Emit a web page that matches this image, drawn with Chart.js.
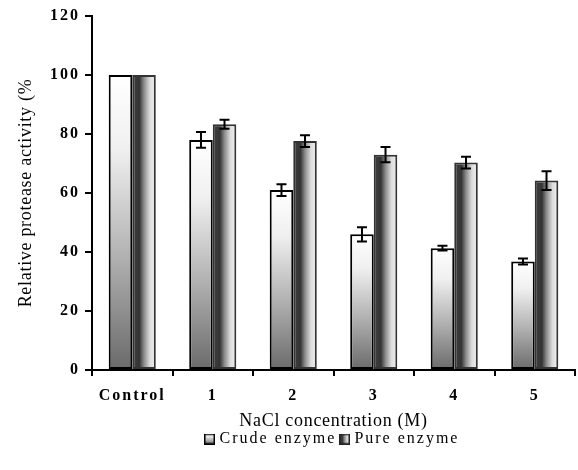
<!DOCTYPE html>
<html><head><meta charset="utf-8">
<script src="https://cdn.jsdelivr.net/npm/chart.js@4.4.1/dist/chart.umd.min.js"></script>
<style>html,body{margin:0;padding:0;background:#fff}#wrap{width:578px;height:470px}</style>
</head><body><div id="wrap"><canvas id="c" width="578" height="470"></canvas></div>
<script>
const categories = ['Control', '1', '2', '3', '4', '5'];
const crudeValues = [100, 78, 61, 46, 41.3, 36.8];
const crudeErrors = [0, 2.7, 2, 2.4, 0.8, 1];
const pureValues = [100, 83.3, 77.6, 73, 70.3, 64.2];
const pureErrors = [0, 1.5, 2, 2.6, 2, 3.2];
const yTicks = [0, 20, 40, 60, 80, 100, 120];
const seriesNames = ['Crude enzyme', 'Pure enzyme'];

const CAT_PCT = 0.585;
const FONT = '"Liberation Serif", "Times New Roman", serif';
const TICK_SP = '2px';
const TITLE_SP = '0.7px';
const LEGEND_SP = '2px';
const LEGEND_SHIFT = [46, -7];

function crudeStops(g) {
  g.addColorStop(0, '#ffffff');
  g.addColorStop(0.25, '#f0f0f0');
  g.addColorStop(0.6, '#b4b4b4');
  g.addColorStop(1, '#6a6a6a');
  return g;
}
function pureStops(g) {
  g.addColorStop(0, '#404040');
  g.addColorStop(0.3, '#333333');
  g.addColorStop(0.5, '#8c8c8c');
  g.addColorStop(0.75, '#dcdcdc');
  g.addColorStop(1, '#f2f2f2');
  return g;
}
function crudeFill(c) {
  const chart = c.chart;
  if (!chart.chartArea || c.type !== 'data') return '#cccccc';
  const y = chart.scales.y;
  const top = y.getPixelForValue(crudeValues[c.dataIndex]);
  const bottom = y.getPixelForValue(0);
  return crudeStops(chart.ctx.createLinearGradient(0, top, 0, bottom));
}
function pureFill(c) {
  const chart = c.chart;
  if (!chart.chartArea || c.type !== 'data') return '#888888';
  const xs = chart.scales.x;
  const cw = (xs.right - xs.left) / categories.length;
  const center = xs.getPixelForValue(c.dataIndex);
  const w = cw * CAT_PCT / 2;
  return pureStops(chart.ctx.createLinearGradient(center, 0, center + w, 0));
}
function legendSwatch(kind) {
  const cv = document.createElement('canvas');
  cv.width = 11; cv.height = 11;
  const x = cv.getContext('2d');
  x.fillStyle = kind === 0 ? crudeStops(x.createLinearGradient(0, 0, 0, 11)) : pureStops(x.createLinearGradient(0, 0, 11, 0));
  x.fillRect(0, 0, 11, 11);
  x.strokeStyle = kind === 0 ? '#000' : '#222';
  x.lineWidth = 1.5;
  x.strokeRect(0.75, 0.75, 9.5, 9.5);
  return cv;
}
function withSpacing(obj, name, sp, shift) {
  const key = '_wrap_' + name;
  if (obj[key]) return;
  obj[key] = true;
  const orig = obj[name];
  obj[name] = function () {
    const c = this.ctx;
    c.save();
    c.letterSpacing = sp;
    if (shift) c.translate(shift[0], shift[1]);
    const r = orig.apply(this, arguments);
    c.restore();
    return r;
  };
}

const spacingPlugin = {
  id: 'spacing',
  beforeUpdate(chart) {
    if (chart.legend) {
      withSpacing(chart.legend, 'fit', LEGEND_SP);
      withSpacing(chart.legend, 'draw', LEGEND_SP, LEGEND_SHIFT);
    }
  },
  beforeDraw(chart) {
    Object.values(chart.scales).forEach(s => {
      withSpacing(s, 'drawTitle', TITLE_SP);
      withSpacing(s, 'drawLabels', TICK_SP);
    });
  }
};

const errorBarPlugin = {
  id: 'errorBars',
  afterDatasetsDraw(chart) {
    const ctx = chart.ctx;
    const y = chart.scales.y;
    const errs = [crudeErrors, pureErrors];
    const vals = [crudeValues, pureValues];
    ctx.save();
    ctx.strokeStyle = '#000';
    ctx.lineWidth = 2;
    chart.data.datasets.forEach((ds, di) => {
      const meta = chart.getDatasetMeta(di);
      meta.data.forEach((bar, i) => {
        const e = errs[di][i];
        if (!e) return;
        const v = vals[di][i];
        const yt = y.getPixelForValue(v + e);
        const yb = y.getPixelForValue(v - e);
        const cx = bar.x;
        ctx.beginPath();
        ctx.moveTo(cx, yt); ctx.lineTo(cx, yb);
        ctx.moveTo(cx - 5, yt); ctx.lineTo(cx + 5, yt);
        ctx.moveTo(cx - 5, yb); ctx.lineTo(cx + 5, yb);
        ctx.stroke();
      });
    });
    ctx.restore();
  }
};

new Chart(document.getElementById('c'), {
  type: 'bar',
  data: {
    labels: categories,
    datasets: [
      { label: seriesNames[0], data: crudeValues, backgroundColor: crudeFill, borderColor: '#000', borderWidth: 2, borderSkipped: false },
      { label: seriesNames[1], data: pureValues, backgroundColor: pureFill, borderColor: '#333', borderWidth: 2, borderSkipped: false }
    ]
  },
  options: {
    responsive: false,
    animation: false,
    devicePixelRatio: 1,
    layout: { padding: { top: 16, right: 3, left: 0, bottom: 6 } },
    datasets: { bar: { categoryPercentage: CAT_PCT, barPercentage: 1 } },
    plugins: {
      tooltip: { enabled: false },
      legend: {
        position: 'bottom',
        labels: {
          color: '#000',
          font: { family: FONT, size: 16 },
          usePointStyle: true,
          boxWidth: 11, boxHeight: 11, pointStyleWidth: 4,
          padding: 6,
          generateLabels(chart) {
            return seriesNames.map((n, i) => ({ text: n, pointStyle: legendSwatch(i), fillStyle: '#fff', strokeStyle: '#000', lineWidth: 0, datasetIndex: i, fontColor: '#000' }));
          }
        }
      }
    },
    scales: {
      x: {
        grid: { display: true, drawOnChartArea: false, drawTicks: true, tickLength: 6, color: '#000', lineWidth: 2, offset: true },
        border: { display: true, color: '#000', width: 2 },
        ticks: { color: '#000', font: { family: FONT, size: 16, weight: 'bold' }, padding: 10, maxRotation: 0 },
        title: { display: true, text: 'NaCl concentration (M)', color: '#000', font: { family: FONT, size: 18 }, padding: { top: 0, bottom: 0 } },
        afterFit(s) { s.height = 62; }
      },
      y: {
        min: 0, max: 120,
        afterBuildTicks(s) { s.ticks = yTicks.map(v => ({ value: v })); },
        grid: { display: true, drawOnChartArea: false, drawTicks: true, tickLength: 7, color: '#000', lineWidth: 2 },
        border: { display: true, color: '#000', width: 2 },
        ticks: { color: '#000', font: { family: FONT, size: 16, weight: 'bold' }, padding: 5 },
        title: { display: true, text: 'Relative protease activity (%', color: '#000', font: { family: FONT, size: 18 }, padding: { top: 15, bottom: 0 } },
        afterFit(s) { s.width = 92; }
      }
    }
  },
  plugins: [spacingPlugin, errorBarPlugin]
});
</script>
</body></html>
